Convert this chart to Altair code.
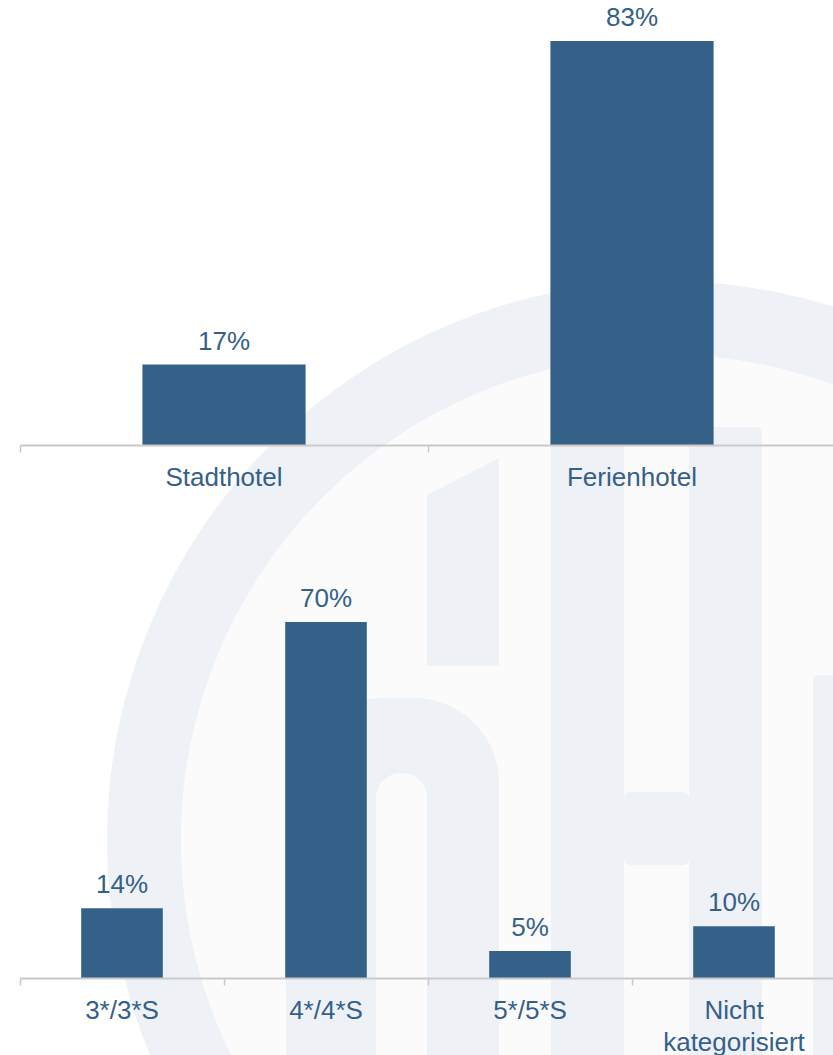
import altair as alt
import pandas as pd

# ---------------- data ----------------
hotel_types = ["Stadthotel", "Ferienhotel"]
hotel_shares = [16.6, 83.4]

star_classes = ["3*/3*S", "4*/4*S", "5*/5*S", "Nicht|kategorisiert"]
star_shares = [13.7, 70.0, 5.3, 10.2]

# ---------------- style ----------------
W, H = 833, 1055
BAR = "#356087"
TXT = "#35608a"
AXIS = "#c9c9c9"
WM = "#eef2f6"      # watermark tint
WM_IN = "#fbfbfb"   # inside of watermark ring
FONT = "Liberation Sans"
FS = 26

# watermark (decorative background logo), page pixel geometry
wm_circle = pd.DataFrame({"cx": [666], "cy": [840]})
wm_rects = pd.DataFrame({
    "x1": [551, 689, 624, 813],
    "x2": [624, 762, 689, 900],
    "y1": [427, 427, 792, 675],
    "y2": [1100, 1100, 865, 1100],
    "fill": [WM] * 4,
})
wm_stem = pd.DataFrame({"x": [427, 499], "top": [495, 458], "bot": [666, 666]})
wm_bowl = pd.DataFrame({"x1": [286], "x2": [499], "y1": [698], "y2": [1100], "fill": [WM]})
wm_hole = pd.DataFrame({"x1": [376], "x2": [427], "y1": [773], "y2": [1100], "fill": [WM_IN]})

wx = alt.Scale(domain=[0, W], nice=False, zero=False)
wy = alt.Scale(domain=[0, H], nice=False, zero=False, reverse=True)


def wm_rect_layer(df, **corner):
    return alt.Chart(df).mark_rect(clip=True, **corner).encode(
        x=alt.X("x1:Q", scale=wx, axis=None), x2="x2:Q",
        y=alt.Y("y1:Q", scale=wy, axis=None), y2="y2:Q",
        color=alt.Color("fill:N", scale=None, legend=None))


disk = alt.Chart(wm_circle).mark_arc(clip=True, color=WM_IN, innerRadius=0, outerRadius=485,
                                     theta=0, theta2=6.2832).encode(
    x=alt.X("cx:Q", scale=wx, axis=None), y=alt.Y("cy:Q", scale=wy, axis=None))
ring = alt.Chart(wm_circle).mark_arc(clip=True, color=WM, innerRadius=485, outerRadius=559,
                                     theta=0, theta2=6.2832).encode(
    x=alt.X("cx:Q", scale=wx, axis=None), y=alt.Y("cy:Q", scale=wy, axis=None))
stem = alt.Chart(wm_stem).mark_area(clip=True, color=WM, orient="vertical").encode(
    x=alt.X("x:Q", scale=wx, axis=None),
    y=alt.Y("top:Q", scale=wy, axis=None), y2="bot:Q")

watermark = alt.layer(
    disk, ring, stem,
    wm_rect_layer(wm_rects, cornerRadius=6),
    wm_rect_layer(wm_bowl, cornerRadiusTopLeft=97, cornerRadiusTopRight=85),
    wm_rect_layer(wm_hole, cornerRadiusTopLeft=25, cornerRadiusTopRight=25),
)


def panel(df, field, order, x_range, y_domain, y_range, axis_offset):
    x_scale = alt.Scale(domain=order, range=x_range, paddingInner=0, paddingOuter=0)
    y_scale = alt.Scale(domain=y_domain, range=y_range, nice=False, zero=False)
    x = alt.X(f"{field}:N", sort=order, scale=x_scale,
              axis=alt.Axis(title=None, orient="bottom", offset=axis_offset, zindex=1,
                            labelAngle=0, labelFontSize=FS, labelFont=FONT,
                            labelColor=TXT, labelPadding=12, tickSize=7, tickColor=AXIS,
                            tickWidth=1.5, domainColor=AXIS, domainWidth=2,
                            bandPosition=0, labelLineHeight=32,
                            labelExpr="split(datum.label, '|')"))
    y = alt.Y("val:Q", scale=y_scale, axis=None)
    bars = alt.Chart(df).mark_bar(color=BAR, width={"band": 0.4}).encode(x=x, y=y)
    labels = alt.Chart(df).transform_calculate(
        label="format(datum.val, '.0f') + '%'"
    ).mark_text(font=FONT, fontSize=FS, color=TXT, baseline="alphabetic", dy=-15).encode(
        x=x, y=y, text="label:N")
    return alt.layer(bars, labels)


df1 = pd.DataFrame({"typ": hotel_types, "val": hotel_shares})
df2 = pd.DataFrame({"kat": star_classes, "val": star_shares})

top = panel(df1, "typ", hotel_types, [20, 836], [0, 83.4], [445, 41], -(H - 445))
bottom = panel(df2, "kat", star_classes, [20, 836], [0, 70], [978, 622], -(H - 978))

chart = alt.layer(watermark, top, bottom).resolve_scale(
    x="independent", y="independent"
).resolve_axis(x="independent", y="independent").properties(
    width=W, height=H, padding=0,
    autosize=alt.AutoSizeParams(type="none"),
    background="white",
).configure_view(strokeWidth=0)

chart.save("out.html", embed_options={"renderer": "svg", "actions": False})
